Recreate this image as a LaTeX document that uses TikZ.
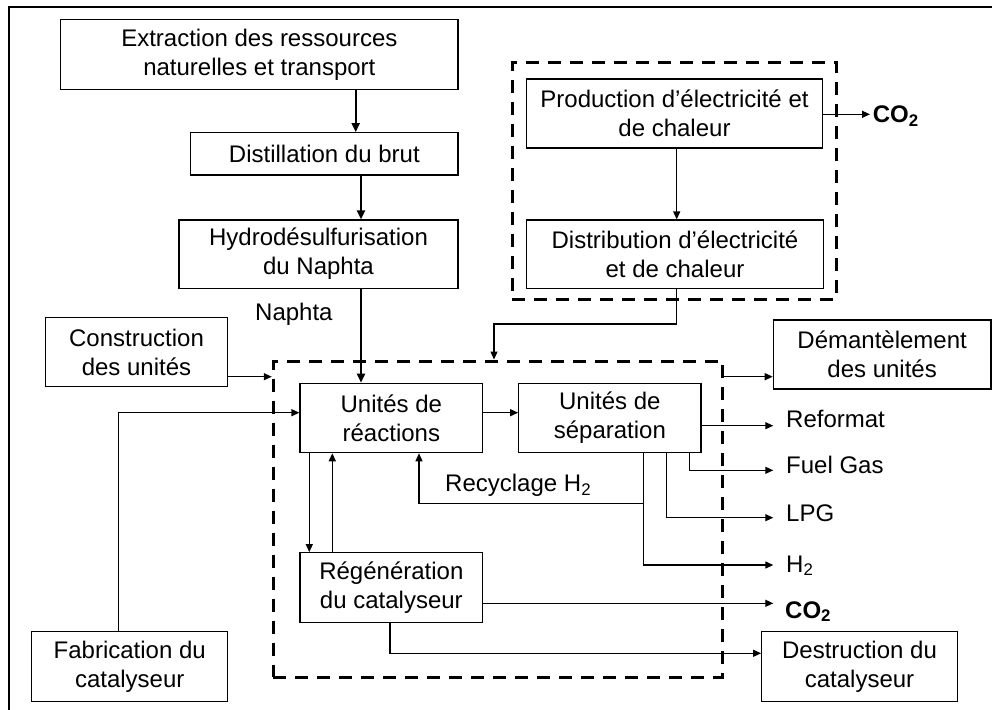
\documentclass[tikz,border=0pt]{standalone}
\usepackage{fontspec}
\setmainfont{Liberation Sans}
\usetikzlibrary{arrows.meta}
\begin{document}
\begin{tikzpicture}[x=1pt,y=-1pt,
  every node/.style={font=\fontsize{24}{29}\selectfont},
  box/.style={draw, line width=1.2pt, align=center, inner sep=0pt},
  dbox/.style={draw, line width=3pt, dash pattern=on 13pt off 9pt, inner sep=0pt},
  arr/.style={line width=1.3pt, -{Triangle[length=8pt,width=7pt]}},
  thickarr/.style={line width=2pt, -{Triangle[length=9pt,width=8pt]}},
  lbl/.style={anchor=base west, inner sep=0pt}]
\useasboundingbox (0,0) rectangle (992,709);
\draw[line width=2.3pt] (8.7,715) -- (8.7,6.7) -- (998,6.7);

% dashed system boundaries
\node[dbox, minimum width=449pt, minimum height=316.3pt] (main) at (497.8,519.15) {};
\node[dbox, minimum width=324.4pt, minimum height=236.3pt] (upper) at (674.5,180.85) {};

% boxes
\node[box, minimum width=397.3pt, minimum height=70pt] (ext) at (259.35,54.3) {Extraction des ressources\\naturelles et transport};
\node[box, minimum width=267.3pt, minimum height=42.3pt] (dist) at (324.35,153.85) {Distillation du brut};
\node[box, minimum width=279pt, minimum height=68.3pt] (hds) at (318.5,254.15) {Hydrodésulfurisation\\du Naphta};
\node[box, minimum width=295.6pt, minimum height=69pt] (prod) at (674.5,113.5) {Production d’électricité et\\de chaleur};
\node[box, minimum width=296.6pt, minimum height=68.3pt] (distr) at (675,254.15) {Distribution d’électricité\\et de chaleur};
\node[box, minimum width=182.4pt, minimum height=69.4pt] (cons) at (136.5,352) {Construction\\des unités};
\node[box, minimum width=217.7pt, minimum height=69pt] (dem) at (882.15,354.5) {Démantèlement\\des unités};
\node[box, minimum width=182.7pt, minimum height=69.4pt] (react) at (391.35,418) {Unités de\\réactions};
\node[box, minimum width=182.3pt, minimum height=69.4pt] (sep) at (609.85,418) {Unités de\\séparation};
\node[box, minimum width=182.7pt, minimum height=69.6pt] (regen) at (391.35,587.5) {Régénération\\du catalyseur};
\node[box, minimum width=196pt, minimum height=70pt] (fab) at (129.7,666.7) {Fabrication du\\catalyseur};
\node[box, minimum width=195.6pt, minimum height=70pt] (destr) at (859.5,666.7) {Destruction du\\catalyseur};

% labels
\node[lbl] (naphta) at (255,320) {Naphta};
\node[lbl] (recy) at (445,491.7) {Recyclage H\textsubscript{2}};
\node[lbl] (co2a) at (872.7,122.7) {\textbf{CO\textsubscript{2}}};
\node[lbl] (reformat) at (786,427) {Reformat};
\node[lbl] (fuel) at (786,473) {Fuel Gas};
\node[lbl] (lpg) at (786,521) {LPG};
\node[lbl] (htwo) at (786,572) {H\textsubscript{2}};
\node[lbl] (co2b) at (785,618) {\textbf{CO\textsubscript{2}}};

% free ends
\coordinate (tco2a) at (870,114.3);
\coordinate (tref) at (773.3,425.7);
\coordinate (tfuel) at (773.3,470.3);
\coordinate (tlpg) at (773.3,517.7);
\coordinate (th2) at (773.3,565);
\coordinate (tco2b) at (773.3,603.3);
\coordinate (rj) at (643.3,503.3);

% connectors
\draw[thickarr] (ext.south -| 355.7,0) -- (dist.north -| 355.7,0);
\draw[thickarr] (dist.south -| 361,0) -- (hds.north -| 361,0);
\draw[thickarr] (hds.south -| 361,0) -- (react.north -| 361,0);
\draw[arr] (prod.south -| 676.7,0) -- (distr.north -| 676.7,0);
\draw[arr] (prod.east |- tco2a) -- (tco2a);
\draw[arr] (distr.south -| 676.7,0) |- (494,324) -- (main.north -| 494,0);
\draw[arr] (cons.east |- 0,376.7) -- (main.west |- 0,376.7);
\draw[arr] (main.east |- 0,376.7) -- (dem.west |- 0,376.7);
\draw[arr] (fab.north -| 118.3,0) |- (react.west |- 0,412.7);
\draw[arr] (react.east |- 0,412.7) -- (sep.west |- 0,412.7);
\draw[arr] (sep.east |- tref) -- (tref);
\draw[arr] (sep.south -| 689.3,0) |- (tfuel);
\draw[arr] (sep.south -| 666.7,0) |- (tlpg);
\draw[arr] (sep.south -| 643.3,0) |- (th2);
\draw[arr] (rj) -| (react.south -| 419,0);
\draw[arr] (react.south -| 309.3,0) -- (regen.north -| 309.3,0);
\draw[arr] (regen.north -| 332.3,0) -- (react.south -| 332.3,0);
\draw[arr] (regen.east |- tco2b) -- (tco2b);
\draw[arr] (regen.south -| 390,0) |- (destr.west |- 0,653.3);
\end{tikzpicture}
\end{document}
